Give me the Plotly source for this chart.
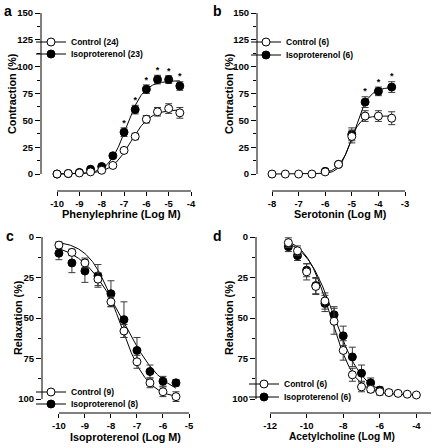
import numpy as np
import plotly.graph_objects as go

# ---------------- data ----------------
# Panel a : Phenylephrine, contraction (%)
a_x = [-10, -9.5, -9, -8.5, -8, -7.5, -7, -6.5, -6, -5.5, -5, -4.5]
a_ctrl = [0, 0.5, 1, 2, 3.5, 8, 22, 35, 51, 58, 61, 57]
a_ctrl_err = [1, 1, 1, 1, 1, 1.5, 2, 3, 3.5, 4, 4.5, 5]
a_iso = [0, 0.5, 1.5, 4.5, 7, 17, 39, 60, 79, 88, 88, 82]
a_iso_err = [1, 1, 1, 1, 1.5, 2, 4, 4, 4, 4, 3.5, 4]
a_star = [0, 0, 0, 0, 0, 0, 1, 1, 1, 1, 1, 1]
a_ctrl_fit = [0, 60, -6.7, 1.0]      # bottom, top, logEC50, hill
a_iso_fit = [0, 87, -6.9, 1.1]

# Panel b : Serotonin, contraction (%)
b_ctrl_x = [-8, -7.5, -7, -6.5, -6, -5.5, -5, -4.5, -4, -3.5]
b_ctrl = [0, 0, 0, 0, 2, 9, 35, 54, 54, 52]
b_ctrl_err = [0.5, 0.5, 0.5, 0.5, 1, 2, 6, 5, 5, 6]
b_iso_x = [-6, -5.5, -5, -4.5, -4, -3.5]
b_iso = [2.5, 9, 37, 67, 77, 81]
b_iso_err = [1, 2, 6, 5, 4, 5]
b_star = [0, 0, 0, 1, 1, 1]
b_ctrl_fit = [0, 54, -5.1, 2.2]
b_iso_fit = [0, 81, -4.9, 1.6]

# Panel c : Isoproterenol, relaxation (%)
c_x = [-10, -9.5, -9, -8.5, -8, -7.5, -7, -6.5, -6, -5.5]
c_ctrl = [5, 9.5, 16, 26, 40, 58, 77, 90, 95.5, 98.5]
c_ctrl_err = [2, 2, 3, 4, 3, 4, 4, 3, 3, 3]
c_iso = [10, 16, 21, 24, 35, 51, 70, 83, 89, 90]
c_iso_err = [4, 6, 7, 7, 8, 11, 8, 4, 3, 2]
c_ctrl_fit = [2, 100, -7.7, 0.8]
c_iso_fit = [3, 100, -7.55, 0.55]

# Panel d : Acetylcholine, relaxation (%)
d_ctrl_x = [-11, -10.5, -10, -9.5, -9, -8.5, -8, -7.5, -7, -6.5, -6, -5.5, -5, -4.5, -4]
d_ctrl = [3.5, 8.5, 21.5, 30.5, 39.5, 52, 70, 85, 92.5, 94, 95.5, 96, 96.5, 97, 97.5]
d_ctrl_err = [3, 3, 5, 5, 5, 8, 6, 4, 3, 2, 2, 1.5, 1, 1, 1]
d_iso_x = [-11, -10.5, -10, -9.5, -9, -8.5, -8, -7.5, -7, -6.5, -6]
d_iso = [6, 11.5, 20.5, 30, 41, 48, 61, 74, 84, 90, 94.5]
d_iso_err = [3, 3, 4, 5, 5, 5, 6, 6, 5, 3, 2]
d_ctrl_fit = [0, 97.5, -8.7, 0.65]
d_iso_fit = [0, 98, -8.5, 0.55]

# axis ticks and labels
a_xticks = [-10, -9, -8, -7, -6, -5, -4]
b_xticks = [-8, -7, -6, -5, -4, -3]
c_xticks = [-10, -9, -8, -7, -6, -5]
d_xticks = [-12, -10, -8, -6, -4]
contr_yticks = [0, 25, 50, 75, 100, 125, 150]
contr_minor = [12.5, 37.5, 62.5, 87.5, 112.5, 137.5]
relax_yticks = [0, 25, 50, 75, 100]
relax_minor = [12.5, 37.5, 62.5, 87.5]

a_names = ["Control (24)", "Isoproterenol (23)"]
b_names = ["Control (6)", "Isoproterenol (6)"]
c_names = ["Control (9)", "Isoproterenol (8)"]
d_names = ["Control (6)", "Isoproterenol (6)"]
x_titles = ["Phenylephrine (Log M)", "Serotonin (Log M)", "Isoproterenol (Log M)", "Acetylcholine (Log M)"]
y_titles = ["Contraction (%)", "Contraction (%)", "Relaxation (%)", "Relaxation (%)"]
letters = ["a", "b", "c", "d"]

# ---------------- styling ----------------
W, H = 437, 448
F = "Liberation Sans"
TICKF = dict(family=F, size=9.5, color="black", weight="bold")
ERRC = "#3a3a3a"


def fx(px):
    return px / W


def fy(py):
    return 1 - py / H


def hill(x, p):
    b, t, ec, h = p
    x = np.asarray(x, dtype=float)
    return b + (t - b) / (1 + 10 ** ((ec - x) * h))


# panel boxes in pixels
panels = [
    dict(l=41, r=191, t=13, b=191, xr=[-10.72, -4], yr=[-15.8, 150]),
    dict(l=257, r=405, t=13, b=191, xr=[-8.564, -3], yr=[-15.8, 150]),
    dict(l=42, r=189, t=237, b=413, xr=[-10.65, -5], yr=[108.6, 0]),
    dict(l=256, r=431, t=237, b=413, xr=[-12.77, -3.2], yr=[108.6, 0]),
]
xticks = [a_xticks, b_xticks, c_xticks, d_xticks]
yticks = [contr_yticks, contr_yticks, relax_yticks, relax_yticks]
yminor = [contr_minor, contr_minor, relax_minor, relax_minor]
ylim = [[0, 150], [0, 150], [0, 100], [0, 100]]

fig = go.Figure()

datasets = [
    (a_x, a_ctrl, a_ctrl_err, a_ctrl_fit, a_x, a_iso, a_iso_err, a_iso_fit, a_star, a_names),
    (b_ctrl_x, b_ctrl, b_ctrl_err, b_ctrl_fit, b_iso_x, b_iso, b_iso_err, b_iso_fit, b_star, b_names),
    (c_x, c_ctrl, c_ctrl_err, c_ctrl_fit, c_x, c_iso, c_iso_err, c_iso_fit, None, c_names),
    (d_ctrl_x, d_ctrl, d_ctrl_err, d_ctrl_fit, d_iso_x, d_iso, d_iso_err, d_iso_fit, None, d_names),
]

ctrl_marker = dict(symbol="circle", size=8, color="white", line=dict(color="black", width=1))
iso_marker = dict(symbol="circle", size=8, color="black", line=dict(color="black", width=1))

layout_axes = {}
shapes = []
annotations = []
legends = {}

# legend placement: (legend left px, control row y px, iso row y px)
leg_pos = [(31, 42, 54), (246, 42, 55), (31, 392, 404), (244, 384, 397)]

for i, (cx, cy, ce, cf, ix, iy, ie, ifit, star, names) in enumerate(datasets):
    k = "" if i == 0 else str(i + 1)
    xa, ya = "x" + k, "y" + k
    p = panels[i]

    # fitted curves
    for xs, fit in ((cx, cf), (ix, ifit)):
        xx = np.linspace(min(xs), max(xs), 200)
        fig.add_trace(go.Scatter(x=xx, y=hill(xx, fit), mode="lines",
                                 line=dict(color="black", width=1),
                                 showlegend=False, hoverinfo="skip",
                                 xaxis=xa, yaxis=ya))
    # isoproterenol points
    fig.add_trace(go.Scatter(x=ix, y=iy, mode="markers", marker=iso_marker,
                             error_y=dict(type="data", array=ie, visible=True,
                                          color=ERRC, thickness=1, width=3.5),
                             showlegend=False, cliponaxis=False, xaxis=xa, yaxis=ya))
    # control points
    fig.add_trace(go.Scatter(x=cx, y=cy, mode="markers", marker=ctrl_marker,
                             error_y=dict(type="data", array=ce, visible=True,
                                          color=ERRC, thickness=1, width=3.5),
                             showlegend=False, cliponaxis=False, xaxis=xa, yaxis=ya))
    # significance asterisks
    if star is not None:
        sx = [x for x, s in zip(ix, star) if s]
        sy = [y + e for y, e, s in zip(iy, ie, star) if s]
        fig.add_trace(go.Scatter(x=sx, y=sy, mode="text", text=["*"] * len(sx),
                                 textposition="top center",
                                 textfont=dict(family=F, size=9, color="black", weight="bold"),
                                 showlegend=False, cliponaxis=False, hoverinfo="skip",
                                 xaxis=xa, yaxis=ya))

    # legends (one per row so rows can sit close together)
    lx, r1, r2 = leg_pos[i]
    for j, (nm, mk, ry) in enumerate(((names[0], ctrl_marker, r1), (names[1], iso_marker, r2))):
        lname = "legend" + ("" if 2 * i + j == 0 else str(2 * i + j + 1))
        fig.add_trace(go.Scatter(x=[None], y=[None], mode="lines+markers", marker=mk,
                                 line=dict(color="black", width=1), name=nm,
                                 legend=lname, showlegend=True, xaxis=xa, yaxis=ya))
        legends[lname] = dict(x=fx(lx), y=fy(ry), xanchor="left", yanchor="middle",
                              bgcolor="rgba(0,0,0,0)", borderwidth=0, itemwidth=30,
                              font=dict(family=F, size=8.5, color="black", weight="bold"),
                              itemclick=False, itemdoubleclick=False)

    layout_axes["xaxis" + k] = dict(
        domain=[fx(p["l"]), fx(p["r"])], range=p["xr"], anchor=ya,
        tickvals=xticks[i], ticktext=[str(t) for t in xticks[i]], tickangle=0,
        ticks="outside", ticklen=4, tickwidth=1, tickcolor="black",
        showline=False, showgrid=False, zeroline=False, tickfont=TICKF,
        automargin=False)
    layout_axes["yaxis" + k] = dict(
        domain=[fy(p["b"]), fy(p["t"])], range=p["yr"], anchor=xa,
        tickvals=yticks[i], ticks="outside", ticklen=5, tickwidth=1, tickcolor="black",
        minor=dict(tickvals=yminor[i], ticks="outside", ticklen=3, tickwidth=1, tickcolor="black"),
        showline=False, showgrid=False, zeroline=False, tickfont=TICKF, tickangle=0,
        automargin=False)

    # detached axis lines
    shapes.append(dict(type="line", xref=xa + " domain", yref=ya, x0=0, x1=0,
                       y0=ylim[i][0], y1=ylim[i][1], line=dict(color="black", width=1)))
    xend = p["xr"][1] if i == 3 else xticks[i][-1]
    shapes.append(dict(type="line", xref=xa, yref=ya + " domain", x0=xticks[i][0], x1=xend,
                       y0=0, y1=0, line=dict(color="black", width=1)))

# titles and panel letters
xt_pos = [(121, 214.5), (340, 214.5), (125, 436.5), (342, 436.5)]
xt_size = [11, 10.8, 10.8, 10.2]
yt_pos = [(12, 94), (229, 94), (18, 318), (229, 318)]
let_pos = [(8, 11), (217, 11), (10, 236), (217, 236)]
for i in range(4):
    annotations.append(dict(text=x_titles[i], xref="paper", yref="paper",
                            x=fx(xt_pos[i][0]), y=fy(xt_pos[i][1]), showarrow=False,
                            xanchor="center", yanchor="middle",
                            font=dict(family=F, size=xt_size[i], color="black", weight="bold")))
    annotations.append(dict(text=y_titles[i], xref="paper", yref="paper",
                            x=fx(yt_pos[i][0]), y=fy(yt_pos[i][1]), showarrow=False,
                            textangle=-90, xanchor="center", yanchor="middle",
                            font=dict(family=F, size=10.8, color="black", weight="bold")))
    annotations.append(dict(text=letters[i], xref="paper", yref="paper",
                            x=fx(let_pos[i][0]), y=fy(let_pos[i][1]), showarrow=False,
                            xanchor="center", yanchor="middle",
                            font=dict(family=F, size=14, color="black", weight="bold")))

fig.update_layout(
    width=W, height=H, margin=dict(l=0, r=0, t=0, b=0, pad=0, autoexpand=False),
    paper_bgcolor="white", plot_bgcolor="white",
    shapes=shapes, annotations=annotations,
    **layout_axes, **legends,
)

fig.write_html("out.html", config={"displayModeBar": False},
               post_script="document.body.style.margin='0';document.body.style.overflow='hidden';")
